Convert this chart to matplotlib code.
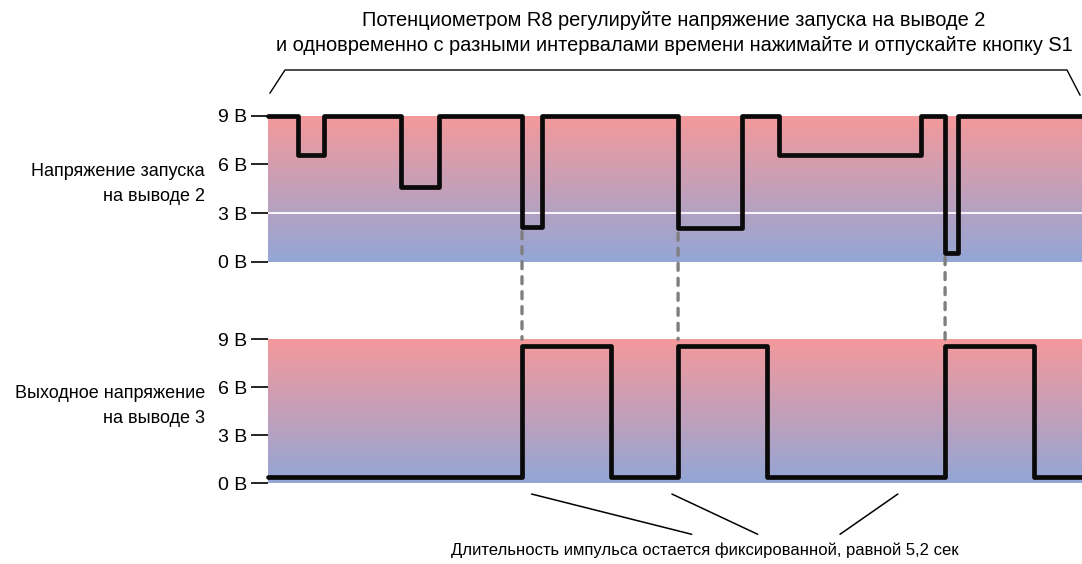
#! /usr/bin/env python3
""" Timing diagram of the 555 monostable: trigger voltage vs output pulse. """

import matplotlib
matplotlib.use('Agg')
import matplotlib.pyplot as plt
import numpy as np
from matplotlib.colors import LinearSegmentedColormap
from matplotlib.lines import Line2D
from matplotlib.patches import ConnectionPatch

# trigger voltage on pin 2 (step edges, seconds / volts)
trig_t = [0, 1.77, 3.27, 7.77, 9.99, 14.84, 15.99, 23.96, 27.71, 29.86, 38.14, 39.56, 40.33, 47.56]
trig_v = [9, 6.6, 9, 4.6, 9, 2.15, 9, 2.05, 9, 6.6, 9, 0.55, 9, 9]

# output voltage on pin 3, pulses of 5.2 s
out_t = [0, 14.86, 20.06, 23.98, 29.18, 39.56, 44.76, 47.56]
out_v = [0.4, 8.6, 0.4, 8.6, 0.4, 8.6, 0.4, 0.4]

# moments when trigger drops below 1/3 Vcc
fire_t = [14.84, 23.96, 39.56]
fire_v = [2.15, 2.05, 0.55]

# where the callout lines touch the bottom panel
note_t = [15.4, 23.6, 36.8]
note_end_px = [691.7, 757.7, 840.0]

yticks = [0, 3, 6, 9]
ytick_labels = ['0 В', '3 В', '6 В', '9 В']

title = ('Потенциометром R8 регулируйте напряжение запуска на выводе 2\n'
         'и одновременно с разными интервалами времени нажимайте и отпускайте кнопку S1')
label_top = 'Напряжение запуска\nна выводе 2'
label_bot = 'Выходное напряжение\nна выводе 3'
note = 'Длительность импульса остается фиксированной, равной 5,2 сек'

plt.rcParams['font.family'] = ['Liberation Sans', 'DejaVu Sans']

W, H = 1082, 564
fig = plt.figure(figsize=(W / 100, H / 100), dpi=100)

grad = LinearSegmentedColormap.from_list('bg', ['#93a6d6', '#f4999b'])
tmax = trig_t[-1]


def fx(px):
    return px / W


def fy(py):
    return 1 - py / H


def panel(bottom_px, top_px):
    ax = fig.add_axes([fx(268), fy(bottom_px), 1 - fx(268), (bottom_px - top_px) / H])
    ax.imshow(np.linspace(0, 1, 256).reshape(-1, 1), cmap=grad, origin='lower',
              extent=(0, tmax, 0, 9), aspect='auto')
    ax.set_xlim(0, tmax)
    ax.set_ylim(0, 9)
    for s in ax.spines.values():
        s.set_visible(False)
    ax.set_xticks([])
    ax.set_yticks(yticks)
    ax.set_yticklabels(ytick_labels)
    ax.tick_params(axis='y', length=12, width=1.2, pad=3, labelsize=14)
    return ax


ax1 = panel(261.7, 115.7)
ax1.axhline(3, color='white', lw=1.3)
ax1.plot(trig_t, trig_v, drawstyle='steps-post', color='#0a0a0a', lw=3.4,
         solid_joinstyle='round', solid_capstyle='round', clip_on=False, zorder=5)

ax2 = panel(483.3, 339.3)
ax2.plot(out_t, out_v, drawstyle='steps-post', color='#0a0a0a', lw=3.4,
         solid_joinstyle='round', solid_capstyle='round', clip_on=False, zorder=5)

# dashed links from the trigger dips down to the output pulses
for t, v in zip(fire_t, fire_v):
    con = ConnectionPatch(xyA=(t, v - 0.3), coordsA=ax1.transData,
                          xyB=(t, 9), coordsB=ax2.transData,
                          color='#7f7f7f', lw=2.4, linestyle=(0, (2.1, 2.4)), zorder=1)
    fig.add_artist(con)

# panel captions
fig.text(fx(205), fy(184), label_top, ha='right', va='center', fontsize=13,
         multialignment='right', linespacing=1.55)
fig.text(fx(205), fy(406), label_bot, ha='right', va='center', fontsize=13,
         multialignment='right', linespacing=1.55)

# title with bracket
fig.text(fx(674), fy(33), title, ha='center', va='center', fontsize=14.4, linespacing=1.4)
fig.add_artist(Line2D([fx(270), fx(285), fx(1067), fx(1080)],
                      [fy(93), fy(70), fy(70), fy(95)],
                      transform=fig.transFigure, color='black', lw=1.0))

# pulse length note with callout lines
fig.text(fx(705), fy(550), note, ha='center', va='center', fontsize=12)
for t, xe in zip(note_t, note_end_px):
    ax2.annotate('', xy=(t, -0.67), xycoords='data',
                 xytext=(fx(xe), fy(534.3)), textcoords='figure fraction',
                 annotation_clip=False,
                 arrowprops=dict(arrowstyle='-', color='black', lw=1.1,
                                 shrinkA=0, shrinkB=0))

fig.savefig('out.png', dpi=100)
